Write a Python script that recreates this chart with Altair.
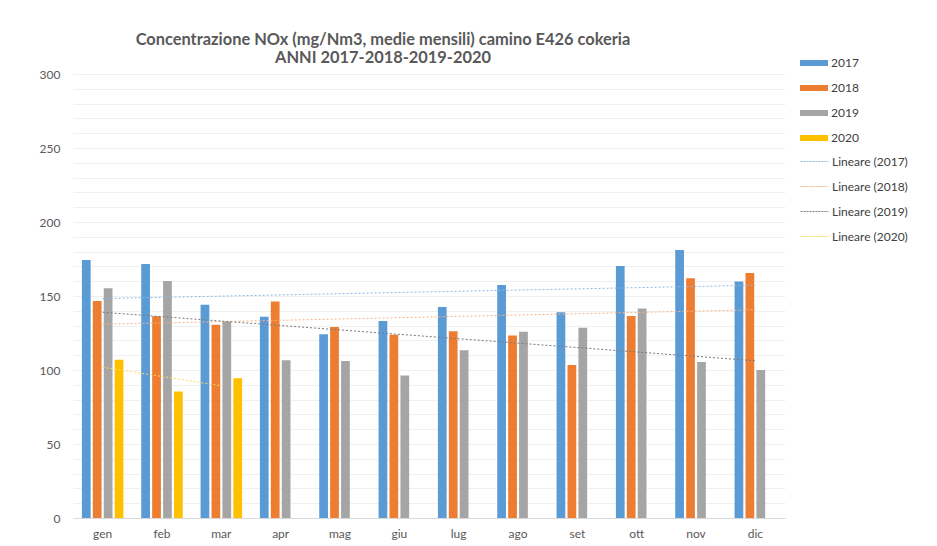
import altair as alt
import pandas as pd

months = ["gen", "feb", "mar", "apr", "mag", "giu", "lug", "ago", "set", "ott", "nov", "dic"]
years = ["2017", "2018", "2019", "2020"]
v2017 = [174.3, 171.6, 144.1, 136.0, 124.1, 133.1, 142.6, 157.4, 139.0, 170.3, 181.1, 159.8]
v2018 = [146.6, 136.3, 130.6, 146.2, 129.1, 123.9, 126.2, 123.3, 103.4, 136.5, 162.0, 165.6]
v2019 = [155.2, 160.1, 132.7, 106.6, 106.1, 96.2, 113.3, 125.8, 128.5, 141.5, 105.4, 100.0]
v2020 = [107.0, 85.5, 94.4, None, None, None, None, None, None, None, None, None]
bar_colors = ["#5B9BD5", "#ED7D31", "#A5A5A5", "#FFC000"]
trend_labels = ["Lineare (2017)", "Lineare (2018)", "Lineare (2019)", "Lineare (2020)"]
trend_colors = ["#8DB8E3", "#F4B58B", "#7A7A7A", "#FFD966"]
major_ticks = [0, 50, 100, 150, 200, 250, 300]
minor_ticks = list(range(0, 301, 10))

rows = []
for y, vals in zip(years, [v2017, v2018, v2019, v2020]):
    for i, (m, v) in enumerate(zip(months, vals)):
        if v is not None:
            rows.append({"month": m, "idx": i + 1, "year": y, "value": v})
df = pd.DataFrame(rows)

FONT = "Lato"
TXT = "#595959"
YSCALE = alt.Scale(domain=[0, 300], nice=False, zero=True)

base = alt.Chart(df)

minor_grid = base.mark_point(opacity=0).encode(
    y=alt.Y("value:Q", scale=YSCALE,
            axis=alt.Axis(title=None, values=minor_ticks, labels=False, ticks=False,
                          domain=False, grid=True, gridColor="#f0f0f0", orient="right")),
)

bars = base.mark_bar().encode(
    x=alt.X("month:N", sort=months,
            scale=alt.Scale(paddingInner=0.3, paddingOuter=0.15),
            axis=alt.Axis(title=None, labelAngle=0, ticks=False, domainColor="#d9d9d9",
                          labelPadding=10, labelFontSize=12, labelColor=TXT, grid=False)),
    xOffset=alt.XOffset("year:N", scale=alt.Scale(domain=years, paddingInner=0.2, paddingOuter=0)),
    y=alt.Y("value:Q", scale=YSCALE,
            axis=alt.Axis(title=None, values=major_ticks, gridColor="#d9d9d9",
                          ticks=False, domain=False, labelPadding=13,
                          labelFontSize=12, labelColor=TXT)),
    fill=alt.Fill("year:N", scale=alt.Scale(domain=years, range=bar_colors),
                  legend=alt.Legend(title=None, orient="none", legendX=731, legendY=-21,
                                    symbolType="M-1.4,-0.3H1.4V0.3H-1.4Z", symbolSize=400,
                                    symbolStrokeWidth=0, rowPadding=9, labelOffset=7,
                                    labelFontSize=12, labelColor="#404040", padding=0)),
)

trend = base.transform_regression(
    "idx", "value", groupby=["year"]
).transform_calculate(
    label="'Lineare (' + datum.year + ')'"
).mark_line(strokeWidth=1, strokeDash=[2, 2]).encode(
    x=alt.X("idx:Q", scale=alt.Scale(domain=[0.5, 12.5], nice=False, zero=False), axis=None),
    y=alt.Y("value:Q", scale=YSCALE, axis=None),
    stroke=alt.Stroke("label:N", scale=alt.Scale(domain=trend_labels, range=trend_colors),
                      legend=alt.Legend(title=None, orient="none", legendX=731, legendY=77,
                                        symbolType="M-1.4,0H1.4", symbolSize=400,
                                        symbolStrokeWidth=1, symbolDash=[2, 1], rowPadding=8,
                                        labelOffset=7, labelFontSize=12, labelColor="#404040",
                                        padding=0)),
    detail="year:N",
)

chart = alt.layer(minor_grid, bars, trend).resolve_scale(x="independent", y="independent").properties(
    width=712, height=444,
    title=alt.TitleParams(["Concentrazione NOx (mg/Nm3, medie mensili) camino E426 cokeria",
                           "ANNI 2017-2018-2019-2020"],
                          fontSize=16.4, fontWeight="bold", color=TXT, font=FONT,
                          anchor="middle", dx=-46, dy=23, offset=10, lineHeight=18),
    autosize=alt.AutoSizeParams(type="none"),
    padding={"left": 65, "top": 66, "right": 125, "bottom": 26},
).configure(font=FONT).configure_view(stroke=None).configure_axis(labelFont=FONT).configure_legend(labelFont=FONT)

chart.save("out.html", embed_options={"renderer": "svg", "actions": False})
